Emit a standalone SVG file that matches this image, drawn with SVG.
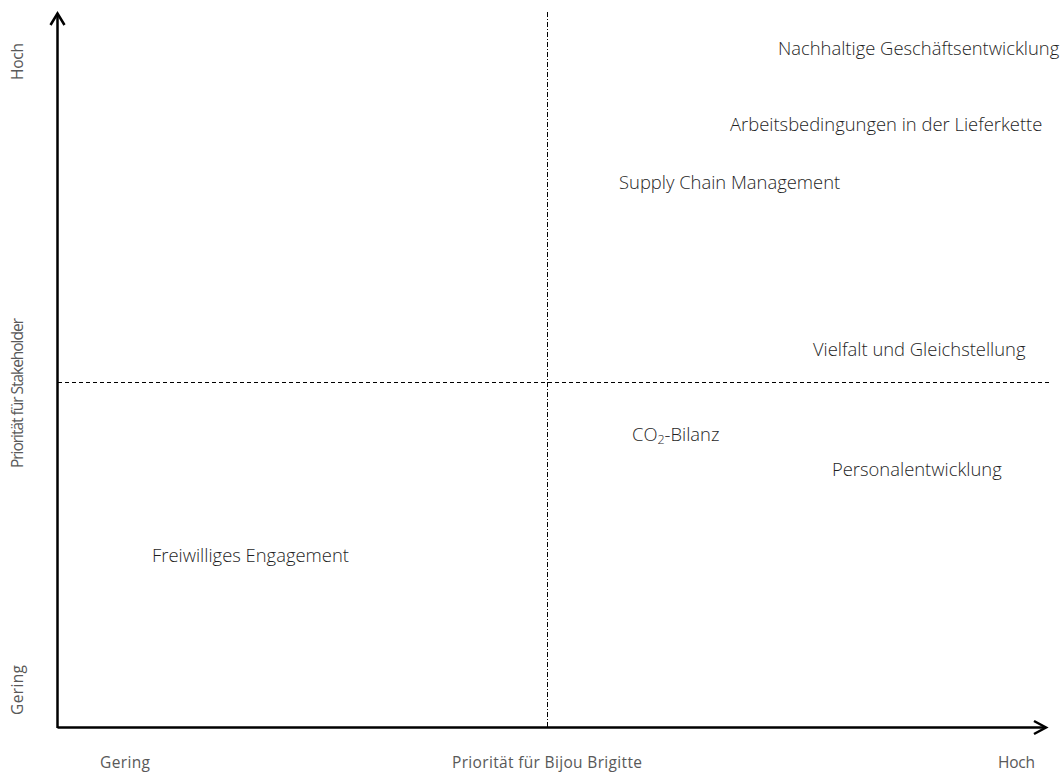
<svg xmlns="http://www.w3.org/2000/svg" width="1064" height="773" viewBox="0 0 1064 773">
<style>
.item{font-family:"Open Sans","Liberation Sans",sans-serif;font-weight:300;font-size:18.4px;fill:#1f1f1f}
.ax{font-family:"Open Sans","Liberation Sans",sans-serif;font-weight:400;font-size:15.5px;fill:#595959}
.axis{stroke:#000;stroke-width:2.5;fill:none}
.dash{stroke:#000;stroke-width:1;fill:none}
</style>
<rect width="1064" height="773" fill="#fff"/>
<g id="connectors">
<line class="dash" x1="58" y1="382.5" x2="1052" y2="382.5" stroke-dasharray="4 3"/>
<line class="dash" x1="547.5" y1="12" x2="547.5" y2="727" stroke-dasharray="5 2 1 2"/>
<line class="axis" x1="57.5" y1="728" x2="57.5" y2="14"/>
<polyline class="axis" points="50.5,25 57.5,13.5 64.5,25"/>
<line class="axis" x1="57.5" y1="727.5" x2="1046" y2="727.5"/>
<polyline class="axis" points="1034,721 1046,727.5 1034,734"/>
</g>
<g id="axis-labels">
<text class="ax" x="100" y="768" textLength="50" lengthAdjust="spacing">Gering</text>
<text class="ax" x="452" y="768" textLength="190" lengthAdjust="spacing">Priorität für Bijou Brigitte</text>
<text class="ax" x="998" y="768" textLength="37" lengthAdjust="spacing">Hoch</text>
<text class="ax" transform="translate(23,80) rotate(-90)" textLength="37" lengthAdjust="spacing">Hoch</text>
<text class="ax" transform="translate(23,468) rotate(-90)" textLength="150" lengthAdjust="spacing">Priorität für Stakeholder</text>
<text class="ax" transform="translate(23,715) rotate(-90)" textLength="50" lengthAdjust="spacing">Gering</text>
</g>
<g id="n1"><text class="item" x="778" y="55">Nachhaltige Geschäftsentwicklung</text></g>
<g id="n2"><text class="item" x="730" y="131">Arbeitsbedingungen in der Lieferkette</text></g>
<g id="n3"><text class="item" x="619" y="189">Supply Chain Management</text></g>
<g id="n4"><text class="item" x="813" y="356">Vielfalt und Gleichstellung</text></g>
<g id="n5"><text class="item" x="632" y="441">CO<tspan font-size="12.5" dy="3">2</tspan><tspan dy="-3">-Bilanz</tspan></text></g>
<g id="n6"><text class="item" x="832" y="476">Personalentwicklung</text></g>
<g id="n7"><text class="item" x="152" y="562">Freiwilliges Engagement</text></g>
</svg>
